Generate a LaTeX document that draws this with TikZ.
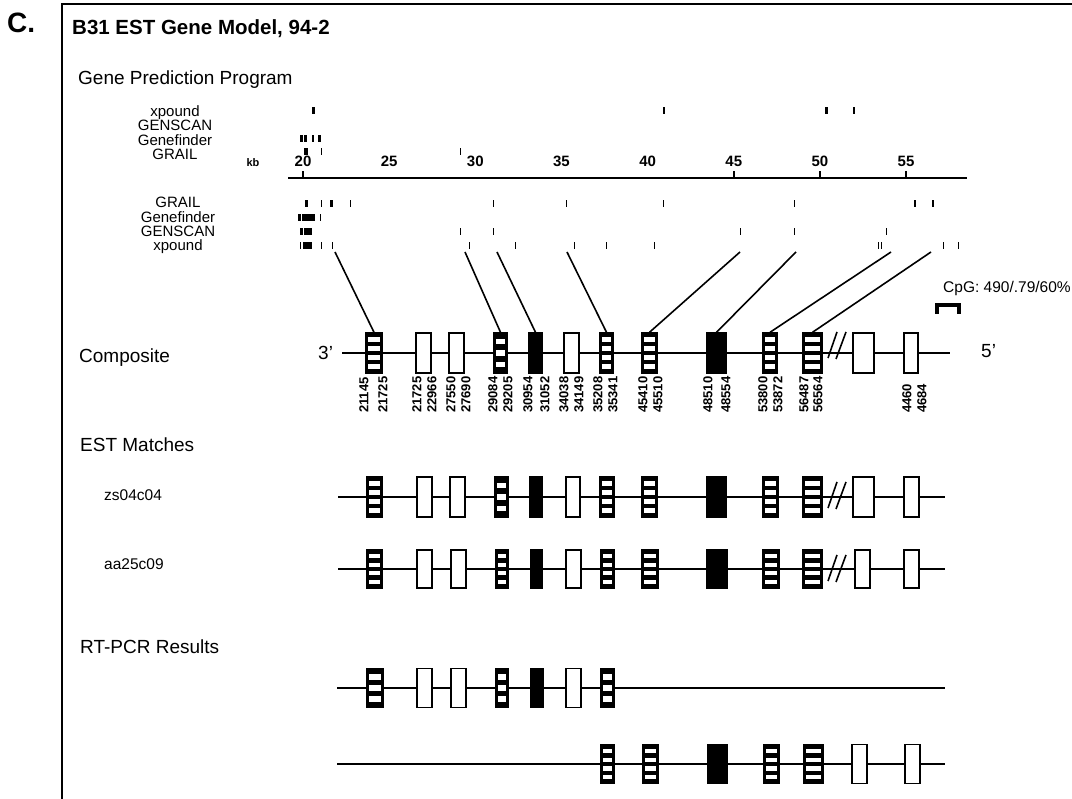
\documentclass[tikz,border=0pt]{standalone}
\usepackage{fontspec}
\setmainfont{Liberation Sans}
\usetikzlibrary{calc}

\begin{document}
\begin{tikzpicture}[
    x=1pt, y=-1pt,
    lbl/.style={anchor=base west, inner sep=0pt, font=\fontsize{19}{19}\selectfont},
    sub/.style={anchor=base west, inner sep=0pt, font=\fontsize{15.5}{15.5}\selectfont},
    prog/.style={anchor=base, inner sep=0pt, font=\fontsize{15}{15}\selectfont},
    kbnum/.style={anchor=base, inner sep=0pt, font=\fontsize{15}{15}\selectfont\bfseries},
    posnum/.style={rotate=90, anchor=west, inner sep=0pt, font=\fontsize{13}{13}\selectfont\bfseries},
    exon/.style={rectangle, draw, line width=1.4pt, inner sep=0pt, minimum height=40pt},
    hollow/.style={fill=white},
    filled/.style={fill=black},
    stripes/.style={fill=black, path picture={
        \foreach \k in {1,...,#1}
          \fill[white] let \p1=(path picture bounding box.south west),
                           \p2=(path picture bounding box.north east),
                           \n1={(\y2-\y1)/(2*#1+1)} in
            ({\x1+2.4pt},{\y1+(2*\k-1)*\n1*1pt}) rectangle ({\x2-2.4pt},{\y1+2*\k*\n1*1pt});
    }},
    bar3/.style={stripes=3},
    bar4/.style={stripes=4},
    intron/.style={line width=1.7pt},
    link/.style={line width=1.6pt},
    brk/.style={line width=1.6pt},
    kbaxis/.style={line width=1.8pt},
    hit/.style={fill=black}
]
\useasboundingbox (0,0) rectangle (1072,799);

%% Frame and header
\coordinate (f0) at (62,799);
\coordinate (f1) at (62,4);
\coordinate (f2) at (1072,4);
\draw[line width=2pt] (f0) -- (f1) -- (f2);
\node[anchor=base west, inner sep=0pt, font=\fontsize{28}{28}\selectfont\bfseries] (panel) at (7,33) {C.};
\node[anchor=base west, inner sep=0pt, font=\fontsize{20.5}{20.5}\selectfont\bfseries] (title) at (72,35) {B31 EST Gene Model, 94-2};

%% Gene prediction programs
\node[lbl] (gpp) at (78,85) {Gene Prediction Program};
\foreach \t/\y in {xpound/117, GENSCAN/131, Genefinder/146, GRAIL/160}
  \node[prog] (up\t) at (175,\y) {\t};
\foreach \t/\y in {GRAIL/208, Genefinder/223, GENSCAN/237, xpound/251}
  \node[prog] (lo\t) at (178,\y) {\t};

%% Predicted exon hits, one row per program
\foreach \y/\hits in {
    111/{312/3, 663/1.6, 825/3, 853/1.6},
    139/{300/2.7, 304/2.7, 311.7/2.3, 318.3/2.7},
    152/{304/4, 320.5/1.6, 459.5/1.6},
    204/{305/2.5, 320.5/1.6, 330/2.5, 349.5/1.6, 492.5/1.6, 565.5/1.6, 662.5/1.6, 793.5/1.6, 914/2, 932/2},
    218/{298/3, 302/13, 319.5/1.6},
    232/{300/3, 304/8, 459.5/1.6, 492.5/1.6, 739.5/1.6, 793.5/1.6, 885.5/1.6},
    246/{299.5/1.6, 303/9, 320.5/1.6, 331.5/1.6, 468.5/1.6, 514.5/1.6, 573.5/1.6, 605.5/1.6,
         653.5/1.6, 877.5/1.2, 880.5/1.2, 942.5/1.6, 957.5/1.6}}
  \foreach \x/\w in \hits \fill[hit] (\x,\y-3.5) rectangle ++(\w,7);

%% kb axis
\coordinate (a0) at (288,178);
\coordinate (a1) at (967,178);
\draw[kbaxis] (a0) -- (a1);
\foreach \k in {20,45,50,55} \draw[kbaxis] ({303+(\k-20)*17.23},178) -- ++(0,-7);
\foreach \k in {20,25,...,55} \node[kbnum] (kb\k) at ({303+(\k-20)*17.23},167) {\k};
\node[anchor=base, inner sep=0pt, font=\fontsize{11}{11}\selectfont\bfseries] (kb) at (253,167) {kb};

%% Composite
\node[lbl] (comp) at (79,363) {Composite};
\node[lbl] (three) at (318,360) {3'};
\node[lbl] (five) at (981,358) {5'};
\coordinate (cs) at (342,353);
\coordinate (ce) at (950,353);
\draw[intron] (cs) -- (ce);
\foreach \n/\s/\x/\w in {c1/bar4/374/16, c2/hollow/423.5/15, c3/hollow/456.5/15, c4/bar3/500.5/13,
    c5/filled/535.5/13, c6/hollow/571.5/15, c7/bar4/606.5/13, c8/bar4/649.5/15, c9/filled/716.5/19,
    c10/bar4/770/14, c11/bar4/812.5/19, c13/hollow/863.5/21, c14/hollow/911/14}
  \node[exon, \s, minimum width=\w pt] (\n) at (\x,353) {};
\foreach \x/\t [count=\i] in {364/21145, 383/21725, 417/21725, 432/22966, 451/27550, 466/27690,
    493/29084, 508/29205, 528/30954, 545/31052, 564/34038, 579/34149, 598/35208, 613/35341,
    643/45410, 658/45510, 708/48510, 726/48554, 763/53800, 778/53872, 804/56487, 818/56564,
    907/4460, 922/4684}
  \node[posnum] (num\i) at (\x,413) {\t};

%% Links from predictions to composite exons
\foreach \i/\x/\e in {1/335/c1, 2/465/c4, 3/497/c5, 4/567/c7, 5/740/c8, 6/796/c9, 7/891/c10, 8/931/c11} {
  \coordinate (p\i) at (\x,252);
  \draw[link] (p\i) -- (\e.north);
}

%% CpG island
\node[anchor=base west, inner sep=0pt, font=\fontsize{15.5}{15.5}\selectfont] (cpg) at (943,293) {CpG: 490/.79/60\%};
\draw[line width=4.5pt] (937,314) -- (937,305) -- (959,305) -- (959,314);

%% EST matches
\node[lbl] (est) at (80,452) {EST Matches};
\node[sub] (zs) at (104,501) {zs04c04};
\coordinate (zs0) at (338,497);
\coordinate (zs1) at (945,497);
\draw[intron] (zs0) -- (zs1);
\foreach \n/\s/\x/\w in {e1/bar4/374.5/15, e2/hollow/424.5/15, e3/hollow/457.5/15, e4/bar3/501.5/13,
    e5/filled/536/12, e6/hollow/573/14, e7/bar4/607/14, e8/bar4/649.5/15, e9/filled/716.5/19,
    e10/bar4/770.5/15, e11/bar4/812.5/19, e13/hollow/863.5/21, e14/hollow/911.5/15}
  \node[exon, \s, minimum width=\w pt] (\n) at (\x,497) {};

\node[sub] (aa) at (104,569) {aa25c09};
\coordinate (aa0) at (338,569);
\coordinate (aa1) at (945,569);
\draw[intron] (aa0) -- (aa1);
\foreach \n/\s/\x/\w in {a1/bar4/374.5/15, a2/hollow/424.5/15, a3/hollow/458.5/15, a4/bar4/502/12,
    a5/filled/536.5/11, a6/hollow/573.5/15, a7/bar4/607.5/13, a8/bar4/650/16, a9/filled/717/20,
    a10/bar4/771/16, a11/bar4/812.5/19, a13/hollow/862.5/15, a14/hollow/911.5/15}
  \node[exon, \s, minimum width=\w pt, minimum height=38pt] (\n) at (\x,569) {};

%% Breaks
\foreach \y in {346,496,569}
  \draw[brk] (828,\y+12) -- ++(9,-26) (836,\y+13) -- ++(10,-27);

%% RT-PCR results
\node[lbl] (rt) at (80,653) {RT-PCR Results};
\coordinate (r0) at (337,688);
\coordinate (r1e) at (945,688);
\draw[intron] (r0) -- (r1e);
\foreach \n/\s/\x/\w in {r1/bar3/375/16, r2/hollow/424.5/15, r3/hollow/458.5/15, r4/bar3/502/12,
    r5/filled/537/12, r6/hollow/573.5/15, r7/bar3/607.5/13}
  \node[exon, \s, minimum width=\w pt, minimum height=39pt] (\n) at (\x,688) {};

\coordinate (s0) at (337,764);
\coordinate (s1) at (945,764);
\draw[intron] (s0) -- (s1);
\foreach \n/\s/\x/\w in {s7/bar4/607.5/13, s8/bar4/650.5/15, s9/filled/717.5/19, s10/bar4/771.5/15,
    s11/bar4/813.5/19, s13/hollow/859.5/15, s14/hollow/912.5/15}
  \node[exon, \s, minimum width=\w pt, minimum height=39pt] (\n) at (\x,764) {};

\end{tikzpicture}
\end{document}
